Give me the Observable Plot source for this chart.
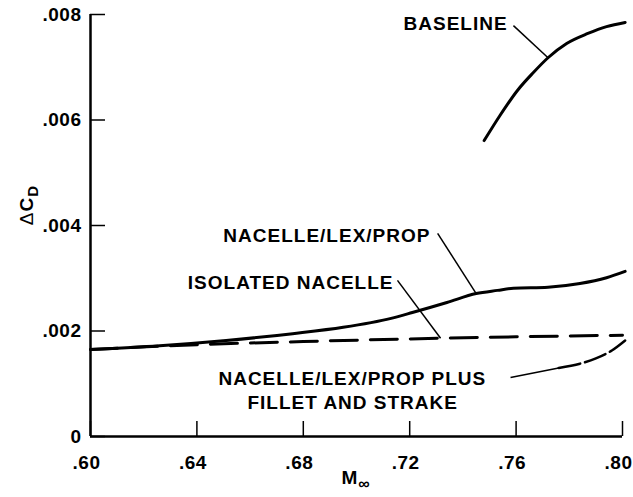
<!DOCTYPE html>
<html>
<head>
<meta charset="utf-8">
<script src="https://cdn.jsdelivr.net/npm/d3@7"></script>
<script src="https://cdn.jsdelivr.net/npm/@observablehq/plot@0.6"></script>
<style>
  body { margin: 0; background: #fff; }
  #chart svg text { letter-spacing: 1px; }
  #chart svg g[aria-label$="tick label"] text { letter-spacing: 0.5px; }
</style>
</head>
<body>
<div id="chart"></div>
<script>
// Drag-coefficient increment, ΔC_D, against free-stream Mach number M∞

// Baseline configuration
const baselineMach = [0.748, 0.754, 0.7605, 0.7665, 0.772, 0.779, 0.787, 0.794, 0.801];
const baselineCd   = [0.00561, 0.00609, 0.00656, 0.00690, 0.00718, 0.00745, 0.00764, 0.00777, 0.00785];

// Nacelle / LEX / prop
const nlpMach = [0.600, 0.626, 0.651, 0.676, 0.695, 0.713, 0.721, 0.734, 0.745, 0.753, 0.759, 0.772, 0.784, 0.794, 0.801];
const nlpCd   = [0.00165, 0.00172, 0.00182, 0.00195, 0.00207, 0.00224, 0.00235, 0.00254, 0.00271, 0.00277, 0.00281, 0.00283, 0.00290, 0.00301, 0.00313];

// Isolated nacelle
const isoMach = [0.60, 0.64, 0.68, 0.72, 0.76, 0.80];
const isoCd   = [0.00165, 0.00174, 0.00180, 0.00185, 0.00189, 0.00192];

// Nacelle / LEX / prop plus fillet and strake
const filletMach = [0.776, 0.784, 0.790, 0.796, 0.801];
const filletCd   = [0.00130, 0.00138, 0.00148, 0.00163, 0.00182];

// Axis ticks and their printed labels
const xTicks = [0.60, 0.64, 0.68, 0.72, 0.76, 0.80];
const xTickLabels = [".60", ".64", ".68", ".72", ".76", ".80"];
const yTicks = [0, 0.002, 0.004, 0.006, 0.008];
const yTickLabels = ["0", ".002", ".004", ".006", ".008"];

// Curve labels (anchor point in data units)
const labelText   = ["BASELINE", "NACELLE/LEX/PROP", "ISOLATED NACELLE", "NACELLE/LEX/PROP PLUS", "FILLET AND STRAKE"];
const labelMach   = [0.7568, 0.7278, 0.7139, 0.6481, 0.6590];
const labelCd     = [0.00783, 0.00381, 0.00292, 0.00110, 0.00063];
const labelAnchor = ["end", "end", "end", "start", "start"];

// Leader lines: from the label to a Mach number on the named curve
const leaderFromMach = [0.7590, 0.7305, 0.7154, 0.7579];
const leaderFromCd   = [0.00779, 0.00385, 0.00296, 0.00112];
const leaderToMach   = [0.772, 0.745, 0.7316, 0.776];
const leaderCurve    = ["baseline", "nlp", "iso", "fillet"];

const W = 633, H = 497;
const margin = {top: 14, right: 11, bottom: 61, left: 90};
const plotW = W - margin.left - margin.right;
const plotH = H - margin.top - margin.bottom;
const tickLen = 15;
const font = "'Liberation Sans', Arial, Helvetica, sans-serif";

const toRows = (m, v) => m.map((x, i) => ({mach: x, cd: v[i]}));
const curves = {
  baseline: [baselineMach, baselineCd],
  nlp: [nlpMach, nlpCd],
  iso: [isoMach, isoCd],
  fillet: [filletMach, filletCd]
};
// Linear interpolation along a curve's sampled points
function cdAt([m, v], x) {
  if (x <= m[0]) return v[0];
  for (let i = 1; i < m.length; i++) {
    if (x <= m[i]) {
      const t = (x - m[i - 1]) / (m[i] - m[i - 1]);
      return v[i - 1] + t * (v[i] - v[i - 1]);
    }
  }
  return v[v.length - 1];
}

const leaders = leaderFromMach.map((m, i) => ({
  x1: m, y1: leaderFromCd[i],
  x2: leaderToMach[i], y2: cdAt(curves[leaderCurve[i]], leaderToMach[i])
}));
const labels = labelText.map((t, i) => ({text: t, mach: labelMach[i], cd: labelCd[i], anchor: labelAnchor[i]}));

const lineStyle = {x: "mach", y: "cd", stroke: "#000", strokeWidth: 3, curve: "monotone-x"};
const textStyle = {fontSize: 19, fontWeight: "bold", fontFamily: font, fill: "#000"};

const chart = Plot.plot({
  width: W,
  height: H,
  marginTop: margin.top,
  marginRight: margin.right,
  marginBottom: margin.bottom,
  marginLeft: margin.left,
  style: {background: "#fff", fontFamily: font, overflow: "visible"},
  x: {domain: [0.6, 0.8], axis: null},
  y: {domain: [0, 0.008], axis: null},
  marks: [
    // axis lines
    Plot.ruleX([0.6], {stroke: "#000", strokeWidth: 2.5}),
    Plot.ruleY([0], {stroke: "#000", strokeWidth: 2.5}),
    // inward ticks
    Plot.tickY(yTicks, {y: d => d, insetRight: plotW - tickLen, stroke: "#000", strokeWidth: 1.5}),
    Plot.tickX(xTicks, {x: d => d, insetTop: plotH - tickLen, stroke: "#000", strokeWidth: 1.5}),
    // tick labels
    Plot.axisY(yTicks, {tickSize: 0, tickPadding: 9, tickFormat: d => yTickLabels[yTicks.indexOf(d)], ...textStyle}),
    Plot.axisX(xTicks, {tickSize: 0, tickPadding: 19, dx: -4, tickFormat: d => xTickLabels[xTicks.indexOf(d)], ...textStyle}),
    // curves
    Plot.line(toRows(baselineMach, baselineCd), lineStyle),
    Plot.line(toRows(nlpMach, nlpCd), lineStyle),
    Plot.line(toRows(isoMach, isoCd), {...lineStyle, strokeDasharray: "27,13"}),
    Plot.line(toRows(filletMach, filletCd), {...lineStyle, strokeWidth: 2.5, strokeDasharray: "22,5"}),
    // leaders and labels
    Plot.link(leaders, {x1: "x1", y1: "y1", x2: "x2", y2: "y2", stroke: "#000", strokeWidth: 1.5}),
    Plot.text(labels.filter(d => d.anchor === "end"), {x: "mach", y: "cd", text: "text", textAnchor: "end", ...textStyle}),
    Plot.text(labels.filter(d => d.anchor === "start"), {x: "mach", y: "cd", text: "text", textAnchor: "start", ...textStyle})
  ]
});

document.getElementById("chart").appendChild(chart);

// Axis titles with subscripts
const svg = d3.select(chart);
const xs = chart.scale("x");
const xTitle = svg.append("text")
  .attr("x", xs.apply(0.7))
  .attr("y", 484)
  .attr("text-anchor", "middle")
  .attr("font-family", font)
  .attr("font-weight", "bold")
  .attr("font-size", 19)
  .attr("fill", "#000");
xTitle.append("tspan").text("M");
xTitle.append("tspan").attr("dy", 5).attr("font-size", 16).text("∞");

const yTitle = svg.append("text")
  .attr("transform", "translate(33,205) rotate(-90)")
  .attr("text-anchor", "middle")
  .attr("font-family", font)
  .attr("font-weight", "bold")
  .attr("font-size", 19)
  .attr("fill", "#000");
yTitle.append("tspan").attr("font-weight", "normal").text("Δ");
yTitle.append("tspan").text("C");
yTitle.append("tspan").attr("dy", 5).attr("font-size", 15).text("D");
</script>
</body>
</html>
